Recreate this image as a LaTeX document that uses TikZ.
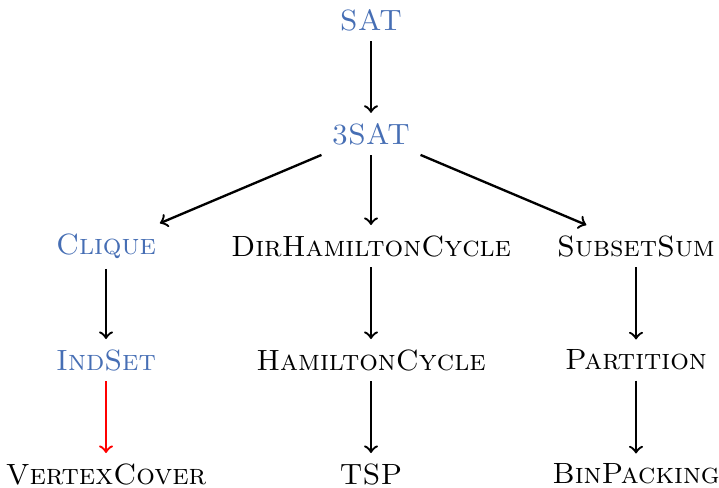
\documentclass[tikz,border=0pt]{standalone}
\definecolor{probblue}{RGB}{70,110,180}
\tikzset{
  prob/.style={inner sep=0.3333em, font=\scshape},
  hl/.style={text=probblue},
  conn/.style={->, thick}
}
\begin{document}
\begin{tikzpicture}[x=0.3413pt, y=-0.3413pt]
\useasboundingbox (0,0) rectangle (719,487);
\node[prob,hl] (sat) at (371,20) {SAT};
\node[prob,hl] (3sat) at (371,134) {3SAT};
\node[prob,hl] (clique) at (106,246) {Clique};
\node[prob] (dhc) at (371,246) {DirHamiltonCycle};
\node[prob] (ss) at (636,246) {SubsetSum};
\node[prob,hl] (ind) at (106,360) {IndSet};
\node[prob] (hc) at (371,360) {HamiltonCycle};
\node[prob] (part) at (636,360) {Partition};
\node[prob] (vc) at (106,474) {VertexCover};
\node[prob] (tsp) at (371,474) {TSP};
\node[prob] (bin) at (636,474) {BinPacking};
\draw[conn] (sat) -- (3sat);
\draw[conn] (3sat) -- (clique);
\draw[conn] (3sat) -- (dhc);
\draw[conn] (3sat) -- (ss);
\draw[conn] (clique) -- (ind);
\draw[conn,draw=red] (ind) -- (vc);
\draw[conn] (dhc) -- (hc);
\draw[conn] (hc) -- (tsp);
\draw[conn] (ss) -- (part);
\draw[conn] (part) -- (bin);
\end{tikzpicture}
\end{document}
